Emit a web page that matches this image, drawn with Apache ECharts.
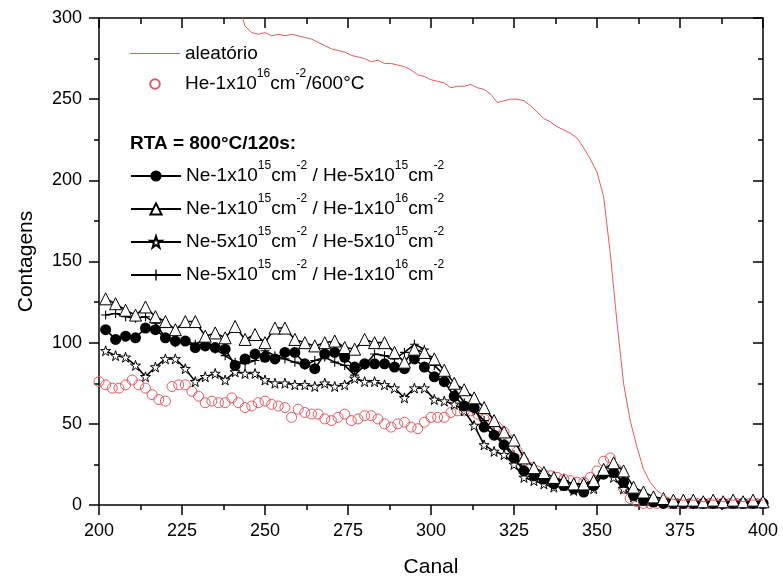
<!DOCTYPE html>
<html>
<head>
<meta charset="utf-8">
<script src="https://cdn.jsdelivr.net/npm/echarts@6/dist/echarts.min.js"></script>
<style>html,body{margin:0;padding:0;background:#fff}#c{width:783px;height:583px}</style>
</head>
<body>
<div id="c"></div>
<script>
// ---- data ----
const xTicks = [200, 225, 250, 275, 300, 325, 350, 375, 400];
const yTicks = [0, 50, 100, 150, 200, 250, 300];

// channels for the four RTA series (markers every 3 channels)
const chBlack = [202,205,208,211,214,217,220,223,226,229,232,235,238,241,244,247,250,253,256,259,
  262,265,268,271,274,277,280,283,286,289,292,295,298,301,304,307,310,313,316,319,
  322,325,328,331,334,337,340,343,346,349,352,355,358,361,364,367,370,373,376,379,
  382,385,388,391,394,397,400];

const neA = [108,102,104,103,109,108,103,101,101,97,
  98,97,96,86,90,93,91,90,94,94,
  87,84,93,94,91,85,87,87,87,85,
  84,90,85,79,76,67,61,60,48,43,
  37,29,21,18,16,13,12,10,8,12,
  19,20,14,6,3,2,1,1,1,1,
  1,1,1,1,1,1,1];
const neB = [127,124,120,117,122,116,113,108,113,113,
  104,106,103,110,102,105,100,109,109,102,
  100,98,100,101,97,96,102,100,100,94,
  88,96,94,90,83,75,71,66,60,52,
  45,40,29,23,20,17,15,13,13,15,
  22,26,21,11,8,5,4,3,3,3,
  2,3,2,3,2,3,2];
const neC = [95,92,91,86,79,85,90,90,84,76,
  79,81,77,82,81,81,77,75,75,74,
  74,73,75,73,74,78,76,76,74,72,
  66,72,72,65,64,62,58,49,37,33,
  31,25,17,15,13,11,12,9,10,10,
  20,17,10,5,3,2,2,1,1,1,
  1,1,1,1,1,1,1];
const neD = [117,118,116,115,116,112,103,100,101,99,
  102,96,92,88,87,89,95,92,90,88,
  86,89,91,88,86,80,86,93,92,90,
  94,99,96,86,80,72,63,58,52,45,
  38,31,22,19,17,15,15,13,12,14,
  20,21,13,6,3,2,2,2,2,2,
  2,2,2,2,2,2,2];

// He-1x10^16 / 600°C (open red circles, every 2 channels)
const chHe = [200,202,204,206,208,210,212,214,216,218,220,222,224,226,228,230,232,234,236,238,
  240,242,244,246,248,250,252,254,256,258,260,262,264,266,268,270,272,274,276,278,
  280,282,284,286,288,290,292,294,296,298,300,302,304,306,308,310,312,314,316,318,
  320,322,324,326,328,330,332,334,336,338,340,342,344,346,348,350,352,354,356,358,
  360,362,364,366,368,370,372,374,376,378,380,382,384,386,388,390,392,394,396,398,400];
const heVals = [76,74,72,72,74,77,74,72,68,65,
  64,73,74,74,70,67,63,64,63,63,
  66,63,60,61,63,64,62,61,60,54,
  59,57,56,56,53,52,54,56,52,53,
  55,55,53,50,48,50,51,48,47,51,
  54,54,54,57,58,58,58,56,53,50,
  48,45,40,33,27,23,21,19,18,17,
  16,15,14,14,17,21,27,29,22,10,
  4,2,1,1,1,1,1,1,1,1,
  1,1,1,1,1,1,1,1,1,1,1];

// aleatório (random spectrum, red line)
const chRand = [240,242,244,246,248,250,252,254,256,258,260,262,264,266,268,270,272,274,276,278,
  280,282,284,286,288,290,292,294,296,298,300,302,304,306,308,310,312,314,316,318,
  320,322,324,326,328,330,332,334,336,338,340,342,344,346,348,350,352,354,356,358,
  360,362,364,366,368,370,372,374,376,378,380,382,384,386,388,390,392,394,396,398,400];
const randVals = [318,308,295,291,290,291,289,290,289,290,
  289,288,287,285,283,281,280,279,277,276,
  275,273,274,272,272,271,270,268,265,264,
  262,261,260,257,258,258,259,257,256,253,
  248,249,250,250,249,246,242,238,236,233,
  231,229,226,220,213,205,190,155,113,75,
  52,36,22,14,9,6,4,3,3,3,
  3,2,3,3,2,3,3,2,3,3,3];

const names = ['aleatório', 'He-1x10^16cm^-2/600°C',
  'Ne-1x10^15cm^-2 / He-5x10^15cm^-2', 'Ne-1x10^15cm^-2 / He-1x10^16cm^-2',
  'Ne-5x10^15cm^-2 / He-5x10^15cm^-2', 'Ne-5x10^15cm^-2 / He-1x10^16cm^-2'];
const richNames = {
  'aleatório': 'aleatório',
  'He-1x10^16cm^-2/600°C': 'He-1x10{s|16}cm{s|-2}/600°C',
  'Ne-1x10^15cm^-2 / He-5x10^15cm^-2': 'Ne-1x10{s|15}cm{s|-2} / He-5x10{s|15}cm{s|-2}',
  'Ne-1x10^15cm^-2 / He-1x10^16cm^-2': 'Ne-1x10{s|15}cm{s|-2} / He-1x10{s|16}cm{s|-2}',
  'Ne-5x10^15cm^-2 / He-5x10^15cm^-2': 'Ne-5x10{s|15}cm{s|-2} / He-5x10{s|15}cm{s|-2}',
  'Ne-5x10^15cm^-2 / He-1x10^16cm^-2': 'Ne-5x10{s|15}cm{s|-2} / He-1x10{s|16}cm{s|-2}'
};

// ---- chart ----
const FONT = 'Liberation Sans, Arial, sans-serif';
const RED = '#e25a62';
const pairs = (xs, ys) => xs.map((x, i) => [x, ys[i]]);
const STAR = 'path://M50,2 L61,36 L97,36 L68,57 L79,92 L50,71 L21,92 L32,57 L3,36 L39,36 Z';
const PLUS = 'path://M44,0 L56,0 L56,44 L100,44 L100,56 L56,56 L56,100 L44,100 L44,56 L0,56 L0,44 L44,44 Z';

function legendRow(name, top, extra) {
  return Object.assign({
    data: [name], left: 130, top: top, padding: 0,
    itemWidth: 50, itemHeight: 14, selectedMode: false,
    formatter: n => richNames[n],
    textStyle: {
      fontSize: 19, color: '#000', fontFamily: FONT,
      rich: { s: { fontSize: 12, color: '#000', fontFamily: FONT, padding: [0, 0, 20, 0] } }
    }
  }, extra || {});
}

const axisCommon = {
  axisLine: { show: true, onZero: false, lineStyle: { color: '#000', width: 1.5 } },
  splitLine: { show: false },
};

const chart = echarts.init(document.getElementById('c'), null, { renderer: 'canvas' });
chart.setOption({
  animation: false,
  backgroundColor: '#fff',
  grid: { left: 99, right: 20, top: 18, bottom: 75, containLabel: false },
  xAxis: [
    Object.assign({}, axisCommon, {
      type: 'value', min: xTicks[0], max: xTicks[xTicks.length - 1], interval: xTicks[1] - xTicks[0],
      position: 'bottom',
      axisTick: { show: true, inside: false, length: 10, lineStyle: { color: '#000', width: 1.5 } },
      minorTick: { show: true, splitNumber: 2, length: 5, lineStyle: { color: '#000', width: 1.5 } },
      axisLabel: { fontSize: 18, color: '#000', fontFamily: FONT, margin: 17 },
      name: 'Canal', nameLocation: 'middle', nameGap: 52,
      nameTextStyle: { fontSize: 21, color: '#000', fontFamily: FONT }
    }),
    Object.assign({}, axisCommon, {
      type: 'value', min: xTicks[0], max: xTicks[xTicks.length - 1], interval: xTicks[1] - xTicks[0],
      position: 'top',
      axisTick: { show: true, inside: true, length: 10, lineStyle: { color: '#000', width: 1.5 } },
      minorTick: { show: true, splitNumber: 2, length: 6, lineStyle: { color: '#000', width: 1.5 } },
      axisLabel: { show: false }
    })
  ],
  yAxis: [
    Object.assign({}, axisCommon, {
      type: 'value', min: yTicks[0], max: yTicks[yTicks.length - 1], interval: yTicks[1] - yTicks[0],
      position: 'left',
      axisTick: { show: true, inside: false, length: 10, lineStyle: { color: '#000', width: 1.5 } },
      minorTick: { show: true, splitNumber: 2, length: 5, lineStyle: { color: '#000', width: 1.5 } },
      axisLabel: { fontSize: 18, color: '#000', fontFamily: FONT, margin: 17 },
      name: 'Contagens', nameLocation: 'middle', nameGap: 62, nameRotate: 90,
      nameTextStyle: { fontSize: 21, color: '#000', fontFamily: FONT }
    }),
    Object.assign({}, axisCommon, {
      type: 'value', min: yTicks[0], max: yTicks[yTicks.length - 1], interval: yTicks[1] - yTicks[0],
      position: 'right',
      axisTick: { show: true, inside: true, length: 10, lineStyle: { color: '#000', width: 1.5 } },
      minorTick: { show: true, splitNumber: 2, length: 5, lineStyle: { color: '#000', width: 1.5 } },
      axisLabel: { show: false }
    })
  ],
  legend: [
    legendRow(names[0], 44, { itemHeight: 1, data: [{ name: names[0], icon: 'rect' }] }),
    legendRow(names[1], 68, { itemHeight: 12 }),
    legendRow(names[2], 160),
    legendRow(names[3], 193),
    legendRow(names[4], 226),
    legendRow(names[5], 259)
  ],
  graphic: [{
    type: 'text', left: 130, top: 134,
    style: { text: 'RTA = 800°C/120s:', font: 'bold 19px ' + FONT, fill: '#000' }
  }],
  series: [
    {
      name: names[1], type: 'line', data: pairs(chHe, heVals),
      symbol: 'circle', symbolSize: 10, z: 2,
      lineStyle: { width: 0, opacity: 0 },
      itemStyle: { color: 'rgba(255,255,255,0)', borderColor: RED, borderWidth: 1 }
    },
    {
      name: names[5], type: 'line', data: pairs(chBlack, neD), z: 3,
      symbol: PLUS, symbolSize: 9,
      lineStyle: { color: '#000', width: 1.6 },
      itemStyle: { color: '#000' }
    },
    {
      name: names[4], type: 'line', data: pairs(chBlack, neC), z: 3,
      symbol: STAR, symbolSize: 10,
      lineStyle: { color: '#000', width: 1.6 },
      itemStyle: { color: '#fff', borderColor: '#000', borderWidth: 1 }
    },
    {
      name: names[2], type: 'line', data: pairs(chBlack, neA), z: 4,
      symbol: 'circle', symbolSize: 11,
      lineStyle: { color: '#000', width: 1.6 },
      itemStyle: { color: '#000' }
    },
    {
      name: names[3], type: 'line', data: pairs(chBlack, neB), z: 4,
      symbol: 'triangle', symbolSize: 12,
      lineStyle: { color: '#000', width: 1.6 },
      itemStyle: { color: '#fff', borderColor: '#000', borderWidth: 1 }
    },
    {
      name: names[0], type: 'line', data: pairs(chRand, randVals), z: 5,
      symbol: 'none', clip: true,
      lineStyle: { color: RED, width: 1 },
      itemStyle: { color: RED }
    }
  ]
});
</script>
</body>
</html>
